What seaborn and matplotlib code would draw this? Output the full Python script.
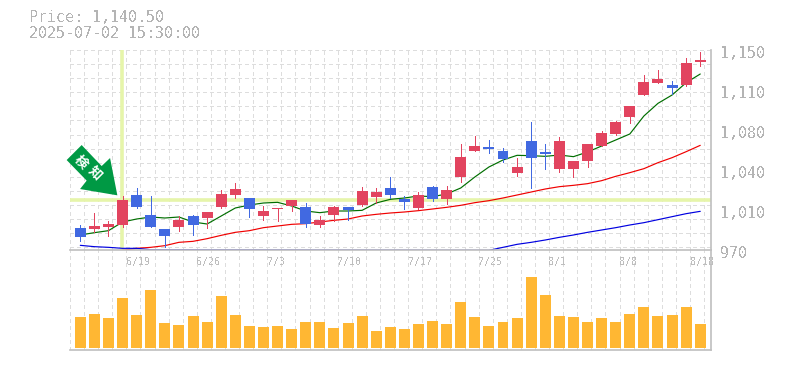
import numpy as np
import pandas as pd
import seaborn as sns
import matplotlib
matplotlib.use("Agg")
import matplotlib.pyplot as plt
from matplotlib.patches import Polygon

sns.set_theme(style="white")
plt.rcParams['font.family'] = ['DejaVu Sans Mono', 'Noto Sans CJK JP']
plt.rcParams['text.antialiased'] = False

def P(z):
    return round(1159 - 0.3 * z, 1)

# price values (yen)
body_hi = [P(v) for v in [564,558,552,480,465,525,567,540,528,516,462,447,474,513,504,480,501,540,501,501,453,456,444,477,465,441,450,351,318,321,333,381,303,336,303,363,312,279,246,198,126,117,135,69,60]]
body_lo = [P(v) for v in [591,567,561,555,501,561,588,561,555,534,501,465,507,528,507,498,552,555,525,510,495,471,465,486,504,477,477,411,333,327,357,399,354,342,387,387,363,318,282,231,165,129,144,135,66]]
wick_hi = [P(v) for v in [555,519,543,468,444,468,567,528,525,516,450,429,474,498,504,480,489,528,498,501,441,444,411,468,456,438,438,312,288,300,324,354,246,312,291,363,312,273,243,198,105,90,123,54,36]]
wick_lo = [P(v) for v in [603,576,588,561,504,561,620,573,585,564,504,474,531,540,543,513,561,561,543,540,498,489,474,507,507,483,492,426,333,339,366,408,444,387,396,411,381,318,285,249,165,129,162,138,78]]
is_up = [0,1,1,1,0,0,0,1,0,1,1,1,0,1,1,1,0,1,1,0,1,1,0,0,1,0,1,1,1,0,0,1,0,0,1,1,1,1,1,1,1,1,0,1,1]
ma_short = [P(v) for v in [585,578,572,546,537,531,534,531,546,552,528,504,495,489,487,498,513,518,513,513,511,489,478,474,468,470,462,444,411,381,360,346,347,349,345,350,336,318,300,282,228,190,165,128,102]]
ma_mid = [np.nan]*3 + [P(v) for v in [631,625,622,617,607,604,596,586,577,572,563,558,553,551,546,541,537,528,523,519,516,512,507,502,496,488,482,474,465,456,447,440,436,431,422,409,398,386,368,353,335,316]]
ma_long = [P(v) for v in [616,620,622,625,625,629]] + [np.nan]*23 + [P(v) for v in [631,622,613,607,600,592,585,577,570,563,555,548,539,530,521,514]]
volume = [93,102,90,150,99,174,75,69,96,78,156,99,66,63,66,57,78,78,60,75,96,51,63,57,72,81,72,138,93,66,78,90,213,159,96,93,78,90,78,102,123,96,99,123,72]

date_pos = [3,8,13,18,23,28,33,38,44]
date_labels = ['6/19','6/26','7/3','7/10','7/17','7/25','8/1','8/8','8/18']
price_ticks = [1150,1114,1078,1042,1006,970]
price_labels = ['1,150','1,110','1,080','1,040','1,010','970']
header = ['Price: 1,140.50','2025-07-02 15:30:00']
cross_idx = 3
cross_price = 1014.7
signal_text = ['検','知']

RED, BLUE, ORANGE = '#E2445F', '#4169E1', '#FFB733'
GRID, FRAME, TEXT = '#DDDDDD', '#BFBFBF', '#B4B4B4'
CROSS, ARROW = '#E6F5AA', '#009944'
PX = 0.72  # one pixel, in points

W, H = 785, 370
fig = plt.figure(figsize=(W/100, H/100), dpi=100, facecolor='white')
L, R = 70, 711
av = fig.add_axes([L/W, 1-350/H, (R-L)/W, 100/H], facecolor='white')
ax = fig.add_axes([L/W, 1-250/H, (R-L)/W, 200/H], facecolor='white', sharex=av)

STEP = 14.09
df = pd.DataFrame(dict(i=range(45), short=ma_short, mid=ma_mid, long=ma_long, vol=volume))
xmin, xmax = -10.3/STEP, (R-80.3)/STEP
gx = np.arange(46) + xmin

for a in (ax, av):
    a.set_axisbelow(True)
    for x in gx:
        a.axvline(x, color=GRID, lw=PX, dashes=(3, 3), zorder=0, antialiased=False)
    for s in ('top', 'left'):
        a.spines[s].set_visible(False)
    for s in ('right', 'bottom'):
        a.spines[s].set_color(FRAME)
        a.spines[s].set_linewidth(1.2)
for k in range(15):
    ax.axhline(1150 - 12.68*k, color=GRID, lw=PX, dashes=(3, 3), zorder=0, antialiased=False)

ax.axhline(cross_price, color=CROSS, lw=2.6, zorder=1)
ax.axvline(cross_idx - 0.01, color=CROSS, lw=2.6, zorder=1)

for col, c in (('short', '#006E00'), ('mid', '#F00000'), ('long', '#0000E0')):
    sns.lineplot(data=df, x='i', y=col, color=c, lw=0.85, ax=ax, zorder=2, legend=False,
                 errorbar=None)

for i in range(45):
    c = RED if is_up[i] else BLUE
    ax.vlines(i, wick_lo[i], wick_hi[i], color=c, lw=PX, zorder=3, antialiased=False)
    ax.bar(i, body_hi[i]-body_lo[i], bottom=body_lo[i], width=0.78, color=c, lw=0, zorder=4)

sns.barplot(data=df, x='i', y='vol', ax=av, color=ORANGE, native_scale=True, width=0.78,
            saturation=1, zorder=3, gap=0, linewidth=0)

# signal arrow, anchored at the crosshair candle
tip_x, tip_y = 2.63, 1019.2
outline = [(0,0),(-7.3,37.3),(-15.7,29.3),(-35.7,50.3),(-50.7,35.3),(-30.7,14.7),(-37.3,6.3)]
ax.add_patch(Polygon([(tip_x+a/STEP, tip_y+b*0.9) for a, b in outline], closed=True,
                     fc=ARROW, ec='none', zorder=6, clip_on=False))
for ch, (a, b) in zip(signal_text, [(-36.6, 33.6), (-22.3, 22)]):
    ax.text(tip_x+a/STEP, tip_y+b*0.9, ch, color='white', fontsize=9.5, fontweight='bold',
            rotation=-45, ha='center', va='center', zorder=7,
            family=['Noto Sans CJK JP'], antialiased=True)

av.set_xlim(xmin, xmax)
ax.set_xlim(xmin, xmax)
ax.set_ylim(970, 1150)
av.set_ylim(-6, 294)
ax.set_xlabel(''); ax.set_ylabel(''); av.set_xlabel(''); av.set_ylabel('')
ax.tick_params(left=False, right=False, bottom=False, labelleft=False, labelbottom=False)
av.tick_params(left=False, right=False, bottom=False, labelleft=False, labelbottom=False)
ax.set_zorder(2)
av.set_zorder(1)

# labels are offset in pixels from their tick positions
for v, s in zip(price_ticks, price_labels):
    ax.annotate(s, xy=(1, v), xycoords=('axes fraction', 'data'), xytext=(9, -3), textcoords='offset pixels',
                fontsize=10.8, color=TEXT, ha='left', va='center', annotation_clip=False)
for p, s in zip(date_pos, date_labels):
    off = 3.5 if s != '8/18' else -10
    ax.annotate(s, xy=(p, 970), xycoords='data', xytext=(off, -12.5), textcoords='offset pixels',
                fontsize=7.2, color='#BEBEBE', ha='left', va='center', annotation_clip=False)
for s, y in zip(header, (18, 33)):
    fig.text(29/W, 1-y/H, s, fontsize=10.8, color=TEXT, ha='left', va='center')

fig.savefig('out.png', dpi=100, facecolor='white')
